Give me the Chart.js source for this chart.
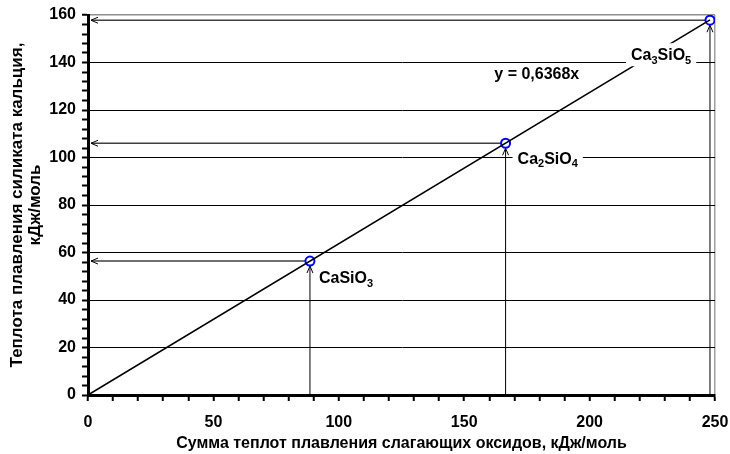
<!DOCTYPE html>
<html lang="ru">
<head>
    <meta charset="UTF-8">
    <title>Теплота плавления силикатов кальция</title>
    <script src="https://cdn.jsdelivr.net/npm/chart.js"></script>
    <style>
        body { margin: 0; background: #ffffff; }
        #heatChart { display: block; }
    </style>
</head>
<body>
    <canvas id="heatChart" width="730" height="454"></canvas>
    <script>
        // silicates and their heats, kJ/mol
        const compounds = ['CaSiO3', 'Ca2SiO4', 'Ca3SiO5'];
        const oxideSum = [88.5, 166.5, 248];
        const silicateHeat = [56.4, 106, 157.8];
        const slope = 0.6368;

        const xTickLabels = [0, 50, 100, 150, 200, 250];
        const yTickLabels = [0, 20, 40, 60, 80, 100, 120, 140, 160];

        const FONT = 'Arial, "Liberation Sans", sans-serif';

        // label offsets from each point, px (left edge, vertical middle)
        const labelOffsets = [[9, 16], [12, 14.5], [-79, 34]];

        function drawFormula(ctx, text, x, y, bg) {
            const parts = text.match(/[A-Za-z]+|\d+/g);
            const big = 'bold 16px ' + FONT, small = 'bold 11px ' + FONT;
            let w = 0;
            parts.forEach(p => {
                ctx.font = /\d/.test(p) ? small : big;
                w += ctx.measureText(p).width;
            });
            if (bg) {
                ctx.fillStyle = '#ffffff';
                ctx.fillRect(x - 5, y - 11, w + 10, 23);
            }
            ctx.fillStyle = '#000000';
            ctx.textBaseline = 'alphabetic';
            ctx.textAlign = 'left';
            let cx = x;
            parts.forEach(p => {
                const sub = /\d/.test(p);
                ctx.font = sub ? small : big;
                ctx.fillText(p, cx, y + 6 + (sub ? 3.5 : 0));
                cx += ctx.measureText(p).width;
            });
        }

        function arrowHead(ctx, tx, ty, dx, dy) {
            const len = 7, half = 3;
            const px = -dy, py = dx;
            ctx.beginPath();
            ctx.moveTo(tx - dx * len + px * half, ty - dy * len + py * half);
            ctx.lineTo(tx, ty);
            ctx.lineTo(tx - dx * len - px * half, ty - dy * len - py * half);
            ctx.stroke();
        }

        const dropLines = {
            id: 'dropLines',
            beforeDatasetsDraw(chart) {
                const { ctx, scales: { x, y } } = chart;
                const x0 = x.getPixelForValue(0), y0 = y.getPixelForValue(0);
                ctx.save();
                oxideSum.forEach((v, i) => {
                    const px = x.getPixelForValue(v), py = y.getPixelForValue(silicateHeat[i]);
                    // to the y axis
                    ctx.lineWidth = 1.6;
                    ctx.strokeStyle = '#404040';
                    ctx.beginPath();
                    ctx.moveTo(px, py);
                    ctx.lineTo(x0 + 3, py);
                    ctx.stroke();
                    ctx.lineWidth = 1;
                    ctx.strokeStyle = '#000000';
                    arrowHead(ctx, x0 + 3, py, -1, 0);
                    // up from the x axis
                    ctx.beginPath();
                    ctx.moveTo(px, y0);
                    ctx.lineTo(px, py + 5);
                    ctx.stroke();
                    arrowHead(ctx, px, py + 5, 0, -1);
                });
                ctx.restore();
            },
            afterDatasetsDraw(chart) {
                const { ctx, scales: { x, y } } = chart;
                ctx.save();
                oxideSum.forEach((v, i) => {
                    const px = x.getPixelForValue(v), py = y.getPixelForValue(silicateHeat[i]);
                    drawFormula(ctx, compounds[i], px + labelOffsets[i][0], py + labelOffsets[i][1], true);
                });
                ctx.font = 'bold 16px ' + FONT;
                ctx.fillStyle = '#000000';
                ctx.textAlign = 'left';
                ctx.textBaseline = 'middle';
                ctx.fillText('y = ' + String(slope).replace('.', ',') + 'x', x.getPixelForValue(162), y.getPixelForValue(135));
                ctx.restore();
            }
        };

        const lastX = oxideSum[oxideSum.length - 1];

        new Chart(document.getElementById('heatChart'), {
            type: 'scatter',
            data: {
                datasets: [
                    {
                        type: 'line',
                        data: [{ x: 0, y: 0 }, { x: lastX, y: slope * lastX }],
                        borderColor: '#000000',
                        borderWidth: 1.6,
                        pointRadius: 0,
                        fill: false
                    },
                    {
                        data: oxideSum.map((v, i) => ({ x: v, y: silicateHeat[i] })),
                        pointRadius: 4.5,
                        pointBorderWidth: 2,
                        borderColor: '#0000ff',
                        backgroundColor: '#ffffff'
                    }
                ]
            },
            options: {
                responsive: false,
                animation: false,
                devicePixelRatio: 1,
                layout: { padding: { left: 0, right: 15, top: 15, bottom: 0 } },
                plugins: { legend: { display: false }, tooltip: { enabled: false } },
                scales: {
                    x: {
                        type: 'linear',
                        min: 0,
                        max: 250,
                        afterFit: s => { s.height = 59; s.paddingLeft = 0; s.paddingRight = 0; },
                        border: { color: '#000000', width: 3 },
                        grid: {
                            color: c => c.tick && c.tick.value === 250 ? '#a0a0a0' : 'rgba(0,0,0,0)',
                            lineWidth: 1.5,
                            tickColor: '#000000',
                            tickWidth: 2,
                            tickLength: 6
                        },
                        ticks: {
                            stepSize: 10,
                            autoSkip: false,
                            maxRotation: 0,
                            padding: 12,
                            color: '#000000',
                            font: { family: FONT, size: 16, weight: 'bold' },
                            callback: v => xTickLabels.includes(v) ? String(v) : ''
                        },
                        title: {
                            display: true,
                            text: 'Сумма теплот плавления слагающих оксидов, кДж/моль',
                            color: '#000000',
                            font: { family: FONT, size: 16, weight: 'bold' },
                            padding: { top: 0, bottom: 1 }
                        }
                    },
                    y: {
                        type: 'linear',
                        min: 0,
                        max: 160,
                        afterFit: s => { s.width = 88; s.paddingTop = 0; s.paddingBottom = 0; },
                        border: { color: '#000000', width: 3 },
                        grid: {
                            color: c => {
                                if (!c.tick) return 'rgba(0,0,0,0)';
                                if (c.tick.value === 160) return '#909090';
                                return c.tick.value % 20 === 0 ? '#000000' : 'rgba(0,0,0,0)';
                            },
                            lineWidth: c => c.tick && c.tick.value === 160 ? 1.5 : 1,
                            tickColor: '#000000',
                            tickWidth: 2,
                            tickLength: 6
                        },
                        ticks: {
                            stepSize: 4,
                            autoSkip: false,
                            padding: 6,
                            color: '#000000',
                            font: { family: FONT, size: 16, weight: 'bold' },
                            callback: v => yTickLabels.includes(v) ? String(v) : ''
                        },
                        title: {
                            display: true,
                            text: ['Теплота плавления силиката кальция,', 'кДж/моль'],
                            color: '#000000',
                            font: { family: FONT, size: 17, weight: 'bold', lineHeight: 1.08 },
                            padding: { top: 8, bottom: 0 }
                        }
                    }
                }
            },
            plugins: [dropLines]
        });
    </script>
</body>
</html>
